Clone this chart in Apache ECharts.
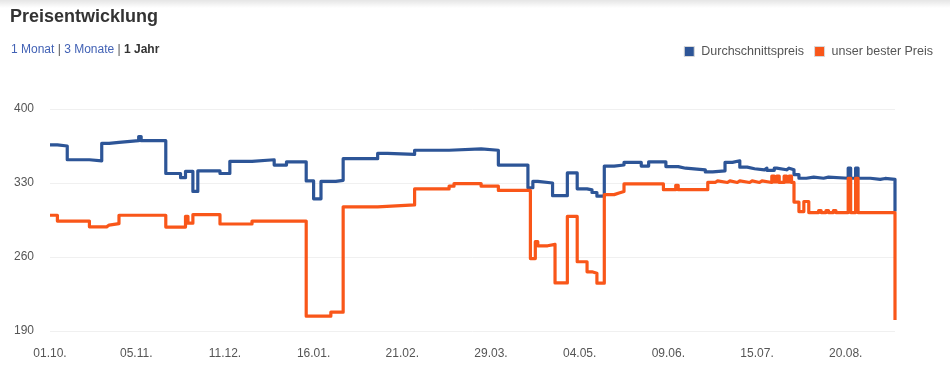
<!DOCTYPE html>
<html>
<head>
<meta charset="utf-8">
<script src="https://cdn.jsdelivr.net/npm/echarts@6/dist/echarts.min.js"></script>
<style>
html,body{margin:0;padding:0;background:#fff;}
#chart{width:950px;height:381px;}
</style>
</head>
<body>
<div id="chart"></div>
<script>
// ---- data ----
const startDate = '2014-10-01';
const endDate = '2015-09-09';
const tickDates = ['2014-10-01','2014-11-05','2014-12-11','2015-01-16','2015-02-21','2015-03-29','2015-05-04','2015-06-09','2015-07-15','2015-08-20'];
const tickLabels = ['01.10.','05.11.','11.12.','16.01.','21.02.','29.03.','04.05.','09.06.','15.07.','20.08.'];
const yTicks = [190, 260, 330, 400];

const avgDates = ['2014-10-01','2014-10-04','2014-10-08','2014-10-17','2014-10-22','2014-10-25','2014-10-29','2014-11-06','2014-11-07','2014-11-17',
  '2014-11-23','2014-11-25','2014-11-28','2014-11-30','2014-12-09','2014-12-13','2014-12-22','2014-12-31','2015-01-05','2015-01-13',
  '2015-01-16','2015-01-19','2015-01-25','2015-01-28','2015-02-11','2015-02-15','2015-02-26','2015-03-12','2015-03-25','2015-04-01',
  '2015-04-13','2015-04-15','2015-04-17','2015-04-23','2015-04-29','2015-05-03','2015-05-07','2015-05-09','2015-05-11','2015-05-14',
  '2015-05-18','2015-05-22','2015-05-29','2015-06-01','2015-06-08','2015-06-13','2015-06-16','2015-06-24','2015-06-27','2015-07-02',
  '2015-07-05','2015-07-08','2015-07-11','2015-07-14','2015-07-18','2015-07-19','2015-07-22','2015-07-23','2015-07-27','2015-07-28',
  '2015-07-30','2015-08-01','2015-08-04','2015-08-07','2015-08-11','2015-08-13','2015-08-21','2015-08-22','2015-08-24','2015-08-25',
  '2015-08-30','2015-09-03','2015-09-05','2015-09-09'];
const avgValues = [366,365,352,351,367.5,368.5,370,374,370,339,
  335,341,322,341.5,339,350.5,352,347,350,332,
  315,331.5,332.5,353,358,357,361,362.3,361,347,
  325.5,331.5,330,318,339.5,324.5,323.5,321,317.5,346,
  347,349.5,346,350,345.5,344,342.5,340.5,341.5,349.5,
  351,345,343.5,342.5,344,342,344,342.5,344,342.5,
  338,334.5,335.5,334.5,335.5,334.5,344,334.5,344,334.5,
  333.5,334.3,333.5,303];

const bestDates = ['2014-10-01','2014-10-04','2014-10-17','2014-10-24','2014-10-25','2014-10-29','2014-11-17','2014-11-25','2014-11-26','2014-11-28',
  '2014-12-09','2014-12-22','2015-01-13','2015-01-23','2015-01-28','2015-02-11','2015-02-26','2015-03-12','2015-03-14','2015-03-25',
  '2015-04-01','2015-04-14','2015-04-16','2015-04-17','2015-04-21','2015-04-24','2015-04-29','2015-05-03','2015-05-07','2015-05-09',
  '2015-05-11','2015-05-14','2015-05-18','2015-05-20','2015-05-22','2015-06-07','2015-06-12','2015-06-13','2015-06-25','2015-06-28',
  '2015-06-29','2015-07-03','2015-07-04','2015-07-07','2015-07-08','2015-07-12','2015-07-13','2015-07-16','2015-07-17','2015-07-21',
  '2015-07-22','2015-07-23','2015-07-24','2015-07-26','2015-07-27','2015-07-28','2015-07-29','2015-07-30','2015-08-01','2015-08-03',
  '2015-08-05','2015-08-09','2015-08-10','2015-08-12','2015-08-13','2015-08-15','2015-08-16','2015-08-21','2015-08-22','2015-08-24',
  '2015-08-25','2015-09-09'];
const bestValues = [299.5,294,288.5,290.2,291.5,299.5,288.3,298.5,292,300,
  291.2,294,204,207.8,307.5,309.3,324.4,327,329.5,327,
  323,258.5,274.5,270.6,272,235.5,298.4,255.5,246,244.7,
  235.2,319,320.6,322,329.1,323.7,327.8,323.7,330.5,332,
  330.5,332,330.5,332,330.5,332,330.5,332,330.5,336.5,
  331,336.5,330.5,336.5,331,336.5,330.5,312,303,312.5,
  302,304,302,304,302,304,302,334.5,302,334.5,
  302,200.5];

const seriesNames = ['Durchschnittspreis', 'unser bester Preis'];
const seriesColors = ['#2d5597', '#f95619'];

// ---- helpers: dates -> day offset from startDate ----
function ts(s) { const p = s.split('-').map(Number); return new Date(p[0], p[1] - 1, p[2]).getTime(); }
const t0 = ts(startDate);
function day(s) { return Math.round((ts(s) - t0) / 86400000); }
function zip(ds, vs) { return ds.map((d, i) => [day(d), vs[i]]); }
const tickDays = tickDates.map(day);
const FONT = '"Liberation Sans", Arial, Helvetica, sans-serif';

const chart = echarts.init(document.getElementById('chart'), null, {renderer: 'canvas'});
chart.setOption({
  animation: false,
  backgroundColor: '#ffffff',
  textStyle: {fontFamily: FONT},
  graphic: [
    {type: 'rect', left: 0, top: 0, shape: {width: 950, height: 8},
      style: {fill: new echarts.graphic.LinearGradient(0, 0, 0, 1, [
        {offset: 0, color: 'rgba(0,0,0,0.10)'}, {offset: 1, color: 'rgba(0,0,0,0)'}])}},
    {type: 'text', left: 10, top: 8,
      style: {text: 'Preisentwicklung', font: 'bold 18px ' + FONT, fill: '#333333'}},
    {type: 'text', left: 11, top: 44,
      style: {
        text: '{a|1 Monat} {s||} {a|3 Monate} {s||} {b|1 Jahr}',
        font: '12px ' + FONT,
        rich: {
          a: {fill: '#4262b5', font: '12px ' + FONT},
          s: {fill: '#555555', font: '12px ' + FONT},
          b: {fill: '#333333', font: 'bold 12px ' + FONT}
        }
      }}
  ],
  legend: {
    right: 12, top: 40,
    itemWidth: 10, itemHeight: 10, itemGap: 10,
    icon: 'rect',
    itemStyle: {borderColor: '#d8d8d8', borderWidth: 1},
    textStyle: {color: '#555555', fontSize: 12.5, fontFamily: FONT, padding: [0, 0, 0, 2]},
    data: seriesNames
  },
  grid: {left: 50, right: 55, top: 109, bottom: 50, containLabel: false},
  xAxis: {
    type: 'value',
    min: 0,
    max: day(endDate),
    axisLine: {show: false},
    axisTick: {show: false},
    splitLine: {show: false},
    axisLabel: {
      customValues: tickDays,
      color: '#555555', fontSize: 12, fontFamily: FONT, margin: 17,
      formatter: function (v) {
        const i = tickDays.indexOf(Math.round(v));
        return i >= 0 ? tickLabels[i] : '';
      }
    }
  },
  yAxis: {
    type: 'value',
    min: yTicks[0], max: yTicks[yTicks.length - 1], interval: yTicks[1] - yTicks[0],
    axisLine: {show: false},
    axisTick: {show: false},
    axisLabel: {color: '#555555', fontSize: 12, fontFamily: FONT, margin: 16},
    splitLine: {lineStyle: {color: '#f0f0f0', width: 1}}
  },
  series: [
    {name: seriesNames[0], type: 'line', step: 'end', showSymbol: false, symbol: 'none',
      data: zip(avgDates, avgValues), color: seriesColors[0],
      lineStyle: {width: 3.2, color: seriesColors[0], join: 'round'}},
    {name: seriesNames[1], type: 'line', step: 'end', showSymbol: false, symbol: 'none',
      data: zip(bestDates, bestValues), color: seriesColors[1],
      lineStyle: {width: 3.2, color: seriesColors[1], join: 'round'}}
  ]
});
</script>
</body>
</html>
